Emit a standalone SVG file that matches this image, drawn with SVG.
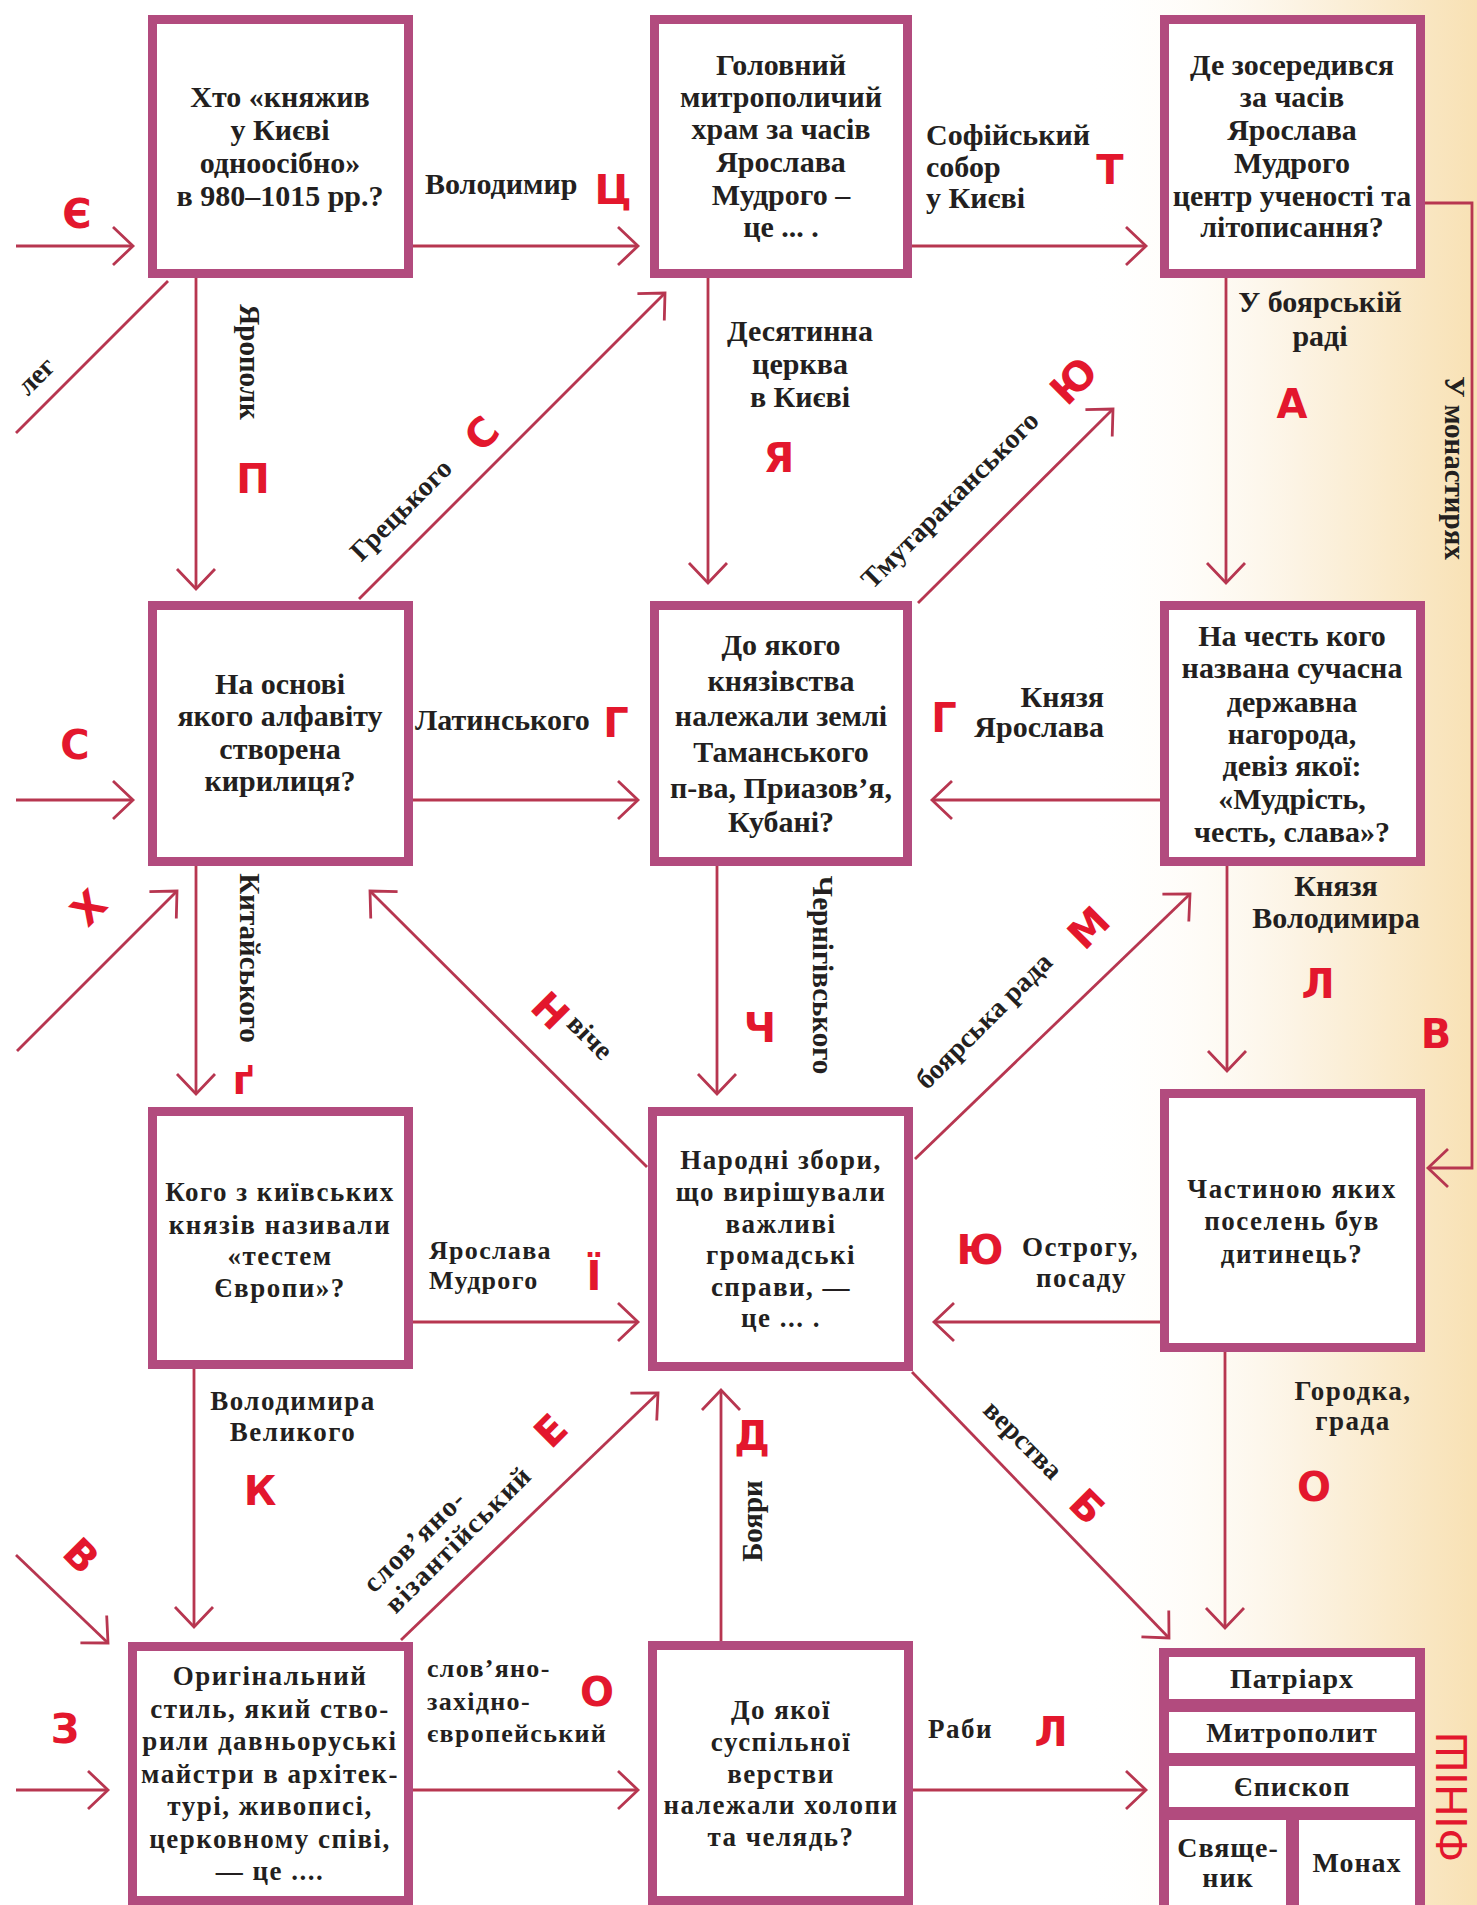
<svg xmlns="http://www.w3.org/2000/svg" width="1477" height="1905" viewBox="0 0 1477 1905">
<defs>
<linearGradient id="bg" x1="1080" y1="0" x2="1477" y2="0" gradientUnits="userSpaceOnUse">
<stop offset="0" stop-color="#FFFFFF" stop-opacity="0"/>
<stop offset="0.55" stop-color="#FCF3E3"/>
<stop offset="1" stop-color="#F8E1B4"/>
</linearGradient>
<marker id="ah" markerUnits="userSpaceOnUse" viewBox="-24 -24 28 48" refX="0" refY="0" markerWidth="28" markerHeight="48" orient="auto" overflow="visible">
<path d="M-20,-19 L0,0 L-20,19" fill="none" stroke="#B73650" stroke-width="2.8"/>
</marker>
<style>
.box{fill:#FFFFFF;stroke:#B24B7E;stroke-width:9}
.t{font-family:"Liberation Serif",serif;font-weight:bold;font-size:30px;fill:#231F20;text-anchor:middle}
.lab{font-family:"Liberation Serif",serif;font-weight:bold;font-size:30px;fill:#231F20}
.w{letter-spacing:1.3px;font-size:26px}
.wb{letter-spacing:1.5px;font-size:27px}
.d{font-family:"Liberation Serif",serif;font-weight:bold;font-size:28px;fill:#231F20;text-anchor:middle}
.v{font-size:29px}
.r{font-family:"DejaVu Sans",sans-serif;font-weight:bold;font-size:40px;fill:#E3172D;text-anchor:middle}
.c{fill:none;stroke:#B73650;stroke-width:2.8;marker-end:url(#ah)}
.n{fill:none;stroke:#B73650;stroke-width:2.8}
.cell{fill:#FFFFFF}
.fc{letter-spacing:1px;font-size:28px}
</style>
</defs>
<rect x="0" y="0" width="1477" height="1905" fill="#FFFFFF"/>
<rect x="1080" y="0" width="397" height="1905" fill="url(#bg)"/>

<g id="connectors">
<path class="c" d="M16,246 H133"/>
<path class="c" d="M413,246 H638"/>
<path class="c" d="M912,246 H1146"/>
<path class="n" d="M168,281 L16,433"/>
<path class="c" d="M196,278 V589"/>
<path class="c" d="M708,278 V583"/>
<path class="c" d="M1226,278 V583"/>
<path class="c" d="M1425,203 H1472 V1168 H1428"/>
<path class="c" d="M359,599 L665,293"/>
<path class="c" d="M918,603 L1113,409"/>
<path class="c" d="M16,800 H133"/>
<path class="c" d="M413,800 H638"/>
<path class="c" d="M1160,800 H932"/>
<path class="c" d="M17,1051 L177,891"/>
<path class="c" d="M196,866 V1094"/>
<path class="c" d="M647,1167 L370,891"/>
<path class="c" d="M717,866 V1094"/>
<path class="c" d="M915,1159 L1190,894"/>
<path class="c" d="M1227,866 V1071"/>
<path class="c" d="M413,1322 H638"/>
<path class="c" d="M1160,1322 H934"/>
<path class="c" d="M194,1369 V1627"/>
<path class="c" d="M16,1555 L108,1643"/>
<path class="c" d="M16,1790 H108"/>
<path class="c" d="M401,1640 L658,1393"/>
<path class="c" d="M721,1641 V1390"/>
<path class="c" d="M912,1372 L1169,1638"/>
<path class="c" d="M1225,1352 V1628"/>
<path class="c" d="M413,1790 H638"/>
<path class="c" d="M913,1790 H1146"/>
</g>

<g id="connector-labels">
<text class="lab" x="425" y="194">Володимир</text>
<text class="lab" x="926" y="145">Софійський</text>
<text class="lab" x="926" y="177">собор</text>
<text class="lab" x="926" y="208">у Києві</text>
<text class="t v" transform="translate(250,362) rotate(90)" x="0" y="10">Ярополк</text>
<text class="t" x="800" y="341">Десятинна</text>
<text class="t" x="800" y="374">церква</text>
<text class="t" x="800" y="407">в Києві</text>
<text class="t" x="1320" y="312">У боярській</text>
<text class="t" x="1320" y="346">раді</text>
<text class="t v" transform="translate(1455,468) rotate(90)" x="0" y="10">У монастирях</text>
<text class="d" transform="translate(36,376) rotate(-45)" x="0" y="9">лег</text>
<text class="d" transform="translate(401,510) rotate(-45)" x="0" y="9">Грецького</text>
<text class="d" transform="translate(950,500) rotate(-45)" x="0" y="9">Тмутараканського</text>
<text class="lab" x="415" y="730">Латинського</text>
<text class="lab" x="1104" y="707" text-anchor="end">Князя</text>
<text class="lab" x="1104" y="737" text-anchor="end">Ярослава</text>
<text class="t v" transform="translate(250,958) rotate(90)" x="0" y="10">Китайського</text>
<text class="d" transform="translate(590,1037) rotate(45)" x="0" y="9">віче</text>
<text class="t v" transform="translate(823,975) rotate(90)" x="0" y="10">Чернігівського</text>
<text class="d" transform="translate(984,1021) rotate(-45)" x="0" y="9">боярська рада</text>
<text class="t" x="1336" y="896">Князя</text>
<text class="t" x="1336" y="928">Володимира</text>
<text class="lab w" x="429" y="1259">Ярослава</text>
<text class="lab w" x="429" y="1289">Мудрого</text>
<text class="lab wb" x="1022" y="1256">Острогу,</text>
<text class="lab wb" x="1036" y="1287">посаду</text>
<text class="t wb" x="1353" y="1400">Городка,</text>
<text class="t wb" x="1353" y="1430">града</text>
<text class="t wb" x="293" y="1410">Володимира</text>
<text class="t wb" x="293" y="1441">Великого</text>
<g transform="translate(437,1541) rotate(-45)">
<text class="d w" x="-16" y="-7" font-size="25">слов’яно-</text>
<text class="d w" x="16" y="23" font-size="25">візантійський</text>
</g>
<text class="t v" transform="translate(752,1521) rotate(-90)" x="0" y="10">Бояри</text>
<text class="d" transform="translate(1023,1440) rotate(45)" x="0" y="9">верства</text>
<text class="lab w" x="427" y="1677">слов’яно-</text>
<text class="lab w" x="427" y="1710">західно-</text>
<text class="lab w" x="427" y="1742">європейський</text>
<text class="lab wb" x="928" y="1738">Раби</text>
</g>

<g id="letters">
<text class="r" x="77" y="228">Є</text>
<text class="r" x="613" y="204">Ц</text>
<text class="r" x="1110" y="184">Т</text>
<text class="r" x="253" y="493">П</text>
<text class="r" x="779" y="472">Я</text>
<text class="r" x="1292" y="418">А</text>
<text class="r" transform="translate(481,433) rotate(-45)" x="0" y="15">С</text>
<text class="r" transform="translate(1073,380) rotate(-45)" x="0" y="15">Ю</text>
<text class="r" x="75" y="759">С</text>
<text class="r" x="616" y="737">Г</text>
<text class="r" x="944" y="732">Г</text>
<text class="r" transform="translate(88,907) rotate(-45)" x="0" y="15">Х</text>
<text class="r" x="243" y="1094">ґ</text>
<text class="r" transform="translate(551,1010) rotate(45)" x="0" y="15">Н</text>
<text class="r" x="760" y="1042">Ч</text>
<text class="r" transform="translate(1088,927) rotate(-45)" x="0" y="15">М</text>
<text class="r" x="1318" y="998">Л</text>
<text class="r" x="1436" y="1048">В</text>
<text class="r" x="594" y="1290">Ї</text>
<text class="r" x="980" y="1264">Ю</text>
<text class="r" x="260" y="1505">К</text>
<text class="r" transform="translate(550,1430) rotate(-45)" x="0" y="15">Е</text>
<text class="r" x="752" y="1450">Д</text>
<text class="r" x="1314" y="1501">О</text>
<text class="r" transform="translate(1088,1506) rotate(45)" x="0" y="15">Б</text>
<text class="r" transform="translate(82,1555) rotate(45)" x="0" y="15">В</text>
<text class="r" x="65" y="1743">З</text>
<text class="r" x="597" y="1706">О</text>
<text class="r" x="1051" y="1746">Л</text>
</g>

<g id="node-a">
<rect class="box" x="152.5" y="19.5" width="256" height="254"/>
<text class="t" x="280" y="107">Хто «княжив</text>
<text class="t" x="280" y="140">у Києві</text>
<text class="t" x="280" y="173">одноосібно»</text>
<text class="t" x="280" y="206">в 980–1015 рр.?</text>
</g>
<g id="node-b">
<rect class="box" x="654.5" y="19.5" width="253" height="254"/>
<text class="t" x="781" y="75">Головний</text>
<text class="t" x="781" y="107">митрополичий</text>
<text class="t" x="781" y="139">храм за часів</text>
<text class="t" x="781" y="172">Ярослава</text>
<text class="t" x="781" y="205">Мудрого –</text>
<text class="t" x="781" y="237">це ... .</text>
</g>
<g id="node-c">
<rect class="box" x="1164.5" y="19.5" width="256" height="254"/>
<text class="t" x="1292" y="75">Де зосередився</text>
<text class="t" x="1292" y="107">за часів</text>
<text class="t" x="1292" y="140">Ярослава</text>
<text class="t" x="1292" y="173">Мудрого</text>
<text class="t" x="1292" y="206">центр ученості та</text>
<text class="t" x="1292" y="237">літописання?</text>
</g>
<g id="node-d">
<rect class="box" x="152.5" y="605.5" width="256" height="256"/>
<text class="t" x="280" y="694">На основі</text>
<text class="t" x="280" y="726">якого алфавіту</text>
<text class="t" x="280" y="759">створена</text>
<text class="t" x="280" y="791">кирилиця?</text>
</g>
<g id="node-e">
<rect class="box" x="654.5" y="605.5" width="253" height="256"/>
<text class="t" x="781" y="655">До якого</text>
<text class="t" x="781" y="691">князівства</text>
<text class="t" x="781" y="726">належали землі</text>
<text class="t" x="781" y="762">Таманського</text>
<text class="t" x="781" y="798">п-ва, Приазов’я,</text>
<text class="t" x="781" y="832">Кубані?</text>
</g>
<g id="node-f">
<rect class="box" x="1164.5" y="605.5" width="256" height="256"/>
<text class="t" x="1292" y="646">На честь кого</text>
<text class="t" x="1292" y="678">названа сучасна</text>
<text class="t" x="1292" y="712">державна</text>
<text class="t" x="1292" y="744">нагорода,</text>
<text class="t" x="1292" y="776">девіз якої:</text>
<text class="t" x="1292" y="809">«Мудрість,</text>
<text class="t" x="1292" y="842">честь, слава»?</text>
</g>
<g id="node-g">
<rect class="box" x="152.5" y="1111.5" width="256" height="253"/>
<text class="t wb" x="280" y="1201">Кого з київських</text>
<text class="t wb" x="280" y="1234">князів називали</text>
<text class="t wb" x="280" y="1265">«тестем</text>
<text class="t wb" x="280" y="1297">Європи»?</text>
</g>
<g id="node-h">
<rect class="box" x="652.5" y="1111.5" width="256" height="255"/>
<text class="t wb" x="781" y="1169">Народні збори,</text>
<text class="t wb" x="781" y="1201">що вирішували</text>
<text class="t wb" x="781" y="1233">важливі</text>
<text class="t wb" x="781" y="1264">громадські</text>
<text class="t wb" x="781" y="1296">справи, —</text>
<text class="t wb" x="781" y="1327">це ... .</text>
</g>
<g id="node-i">
<rect class="box" x="1164.5" y="1093.5" width="256" height="254"/>
<text class="t wb" x="1292" y="1198">Частиною яких</text>
<text class="t wb" x="1292" y="1230">поселень був</text>
<text class="t wb" x="1292" y="1263">дитинець?</text>
</g>
<g id="node-j">
<rect class="box" x="132.5" y="1646.5" width="276" height="254"/>
<text class="t wb" x="270" y="1685">Оригінальний</text>
<text class="t wb" x="270" y="1718">стиль, який ство-</text>
<text class="t wb" x="270" y="1750">рили давньоруські</text>
<text class="t wb" x="270" y="1783">майстри в архітек-</text>
<text class="t wb" x="270" y="1815">турі, живописі,</text>
<text class="t wb" x="270" y="1848">церковному співі,</text>
<text class="t wb" x="270" y="1880">— це ....</text>
</g>
<g id="node-k">
<rect class="box" x="652.5" y="1645.5" width="256" height="255"/>
<text class="t wb" x="781" y="1719">До якої</text>
<text class="t wb" x="781" y="1751">суспільної</text>
<text class="t wb" x="781" y="1783">верстви</text>
<text class="t wb" x="781" y="1814">належали холопи</text>
<text class="t wb" x="781" y="1846">та челядь?</text>
</g>
<g id="node-finish">
<rect x="1159" y="1648" width="266" height="257" fill="#B24B7E"/>
<rect class="cell" x="1169" y="1657" width="246" height="42"/>
<rect class="cell" x="1169" y="1712" width="246" height="41"/>
<rect class="cell" x="1169" y="1766" width="246" height="41"/>
<rect class="cell" x="1169" y="1820" width="117" height="85"/>
<rect class="cell" x="1299" y="1820" width="116" height="85"/>
<text class="t fc" x="1292" y="1688">Патріарх</text>
<text class="t fc" x="1292" y="1742">Митрополит</text>
<text class="t fc" x="1292" y="1796">Єпископ</text>
<text class="t fc" x="1228" y="1857">Свяще-</text>
<text class="t fc" x="1228" y="1887">ник</text>
<text class="t fc" x="1357" y="1872">Монах</text>
<text transform="translate(1451,1797) rotate(-90)" x="0" y="16" font-family="Liberation Sans, sans-serif" font-size="45" fill="#E3172D" text-anchor="middle" textLength="130" lengthAdjust="spacingAndGlyphs">ФІНІШ</text>
</g>
</svg>
